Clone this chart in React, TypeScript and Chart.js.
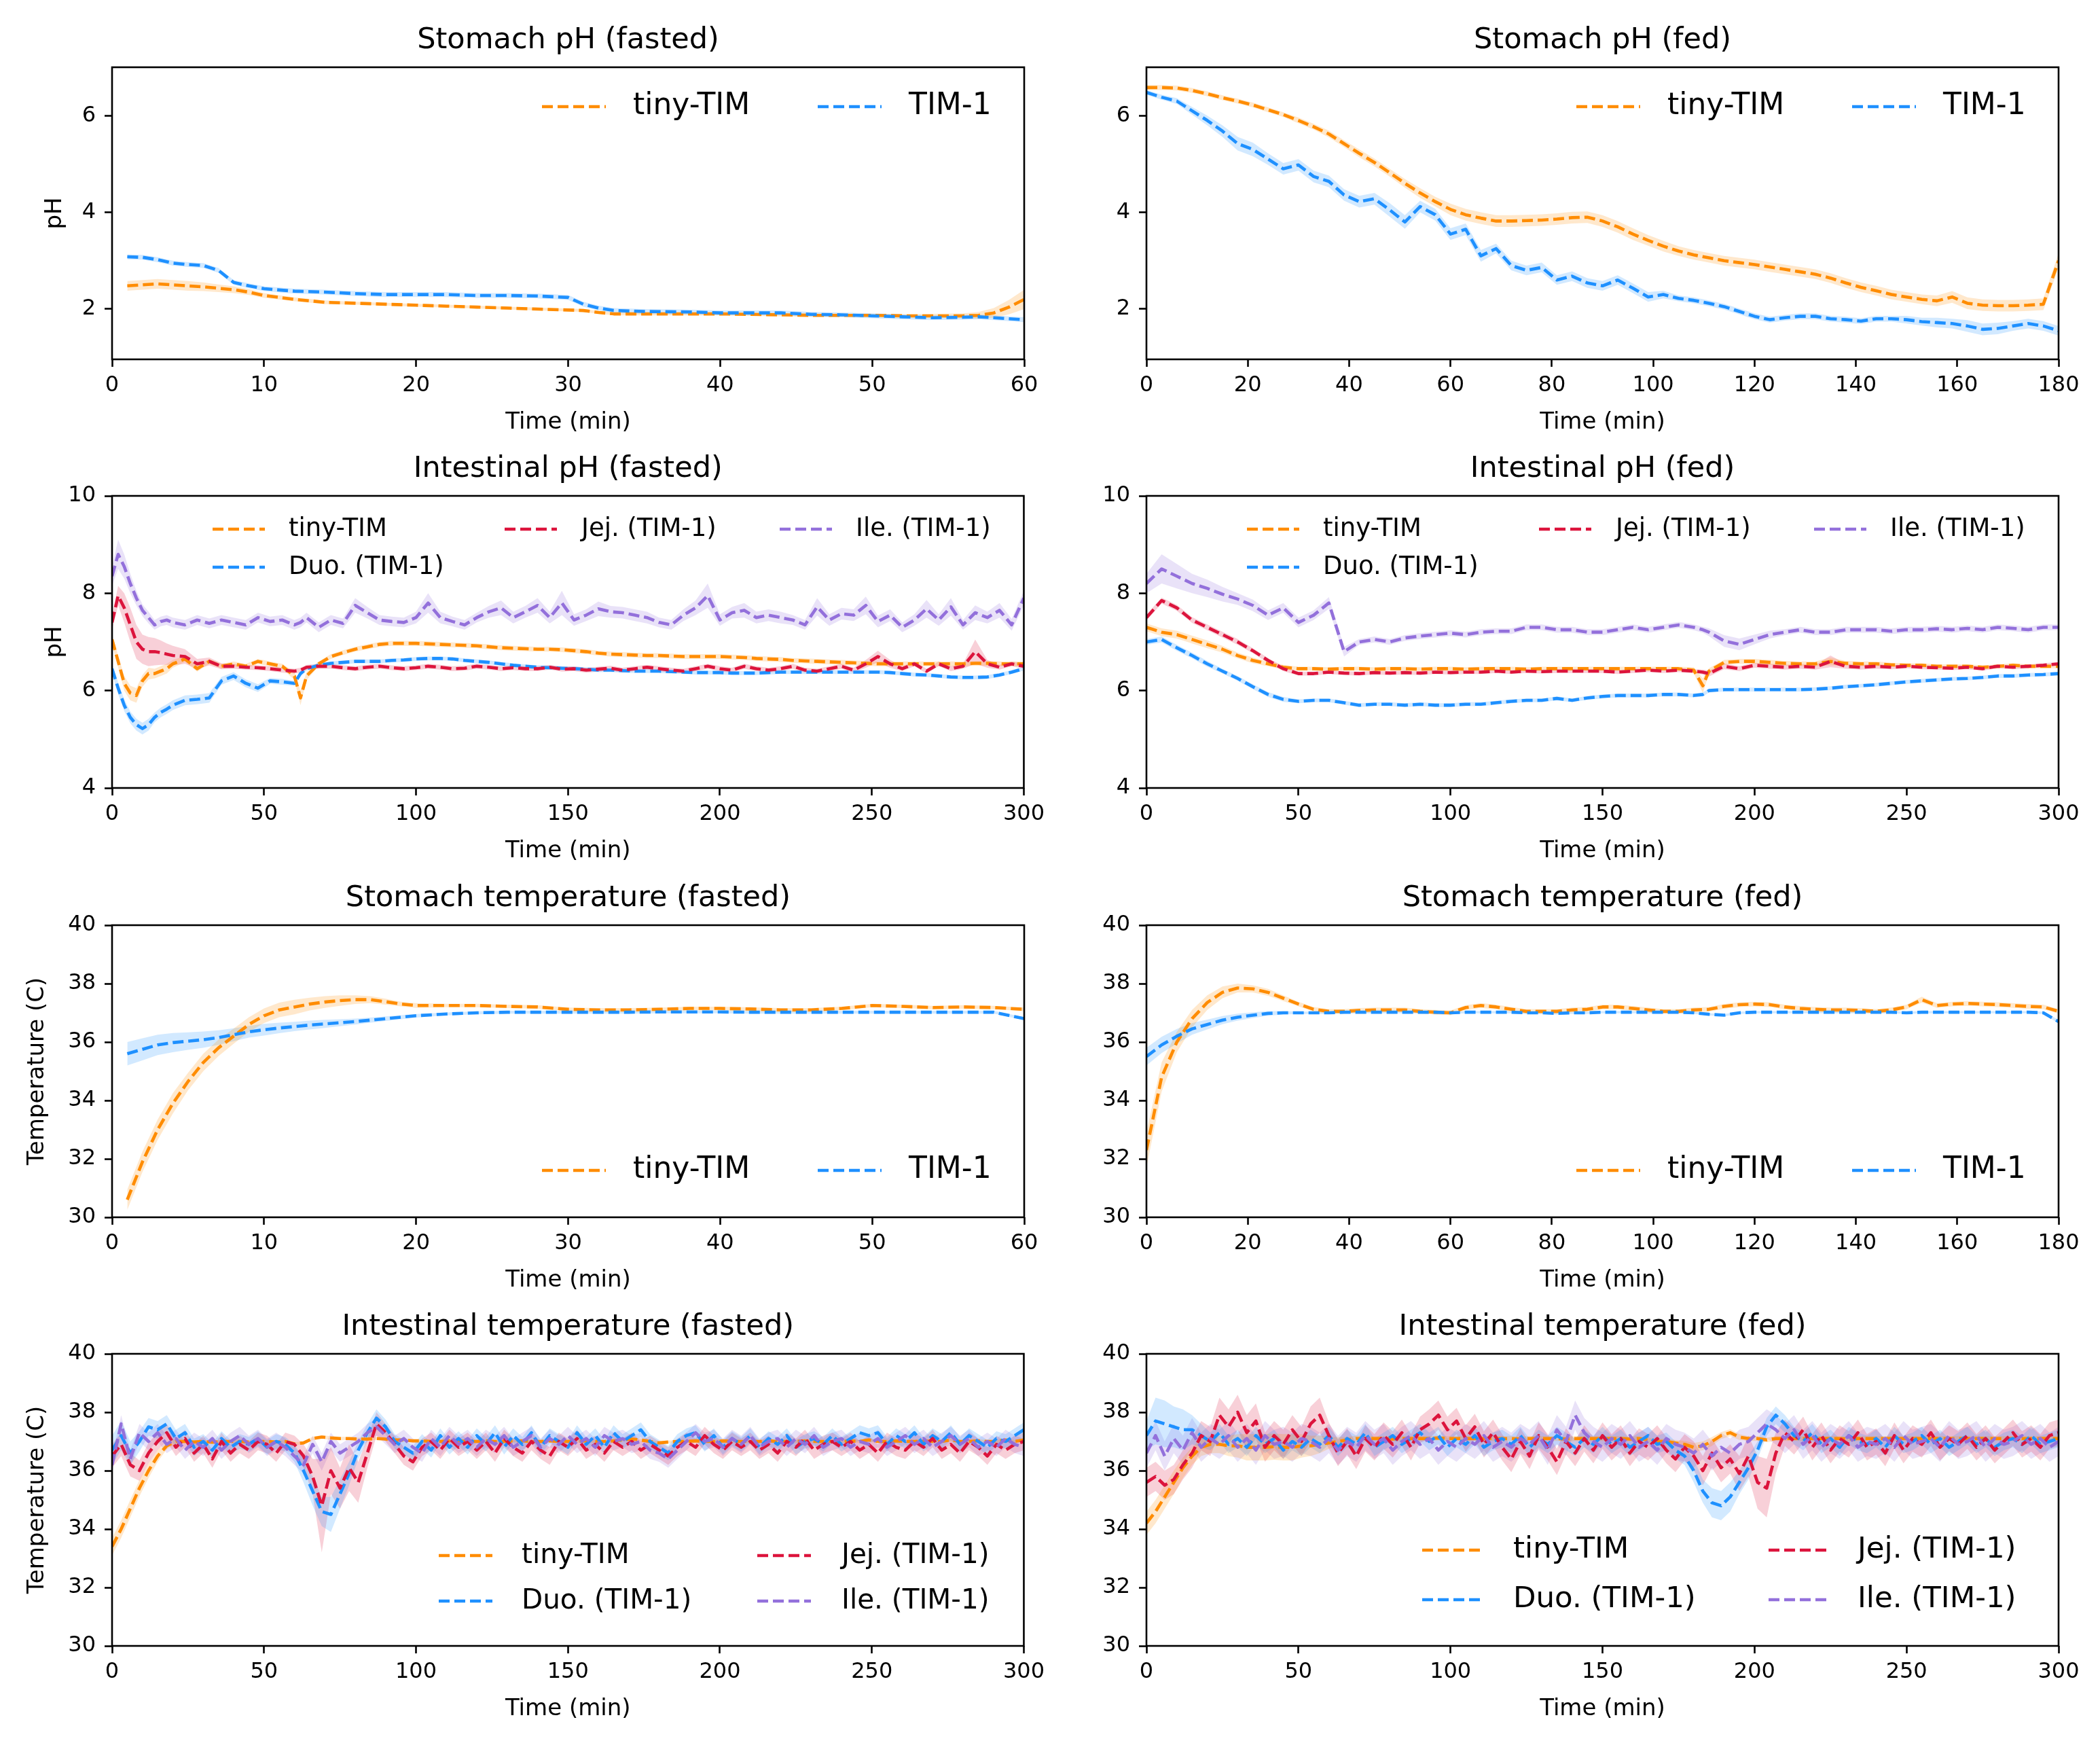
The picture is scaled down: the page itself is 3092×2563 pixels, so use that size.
import React, { useEffect, useRef } from 'react';
import Chart from 'chart.js/auto';

const ORANGE = '#ff8c00';
const BLUE = '#1e90ff';
const RED = '#dc143c';
const PURPLE = '#9370db';
const FONT = '"DejaVu Sans", "Liberation Sans", sans-serif';

// ---------- Stomach pH (fasted) ----------
const T_SPH_FASTED = [1, 2, 3, 4, 5, 6, 7, 8, 9, 10, 12, 14, 16, 18, 20, 22, 24, 26, 28, 30, 31, 32, 33, 35, 38, 40, 42, 44, 46, 48, 50, 52, 54, 56, 57, 58, 59, 60];
const SPH_FASTED_TINY = [2.48, 2.5, 2.52, 2.5, 2.48, 2.46, 2.43, 2.4, 2.35, 2.28, 2.2, 2.14, 2.12, 2.1, 2.08, 2.06, 2.04, 2.02, 2.0, 1.98, 1.97, 1.93, 1.9, 1.9, 1.9, 1.9, 1.89, 1.88, 1.87, 1.87, 1.87, 1.86, 1.86, 1.86, 1.87, 1.92, 2.04, 2.2];
const SPH_FASTED_TINY_SD = [0.1, 0.1, 0.1, 0.1, 0.1, 0.09, 0.08, 0.07, 0.06, 0.05, 0.04, 0.04, 0.03, 0.03, 0.03, 0.03, 0.03, 0.03, 0.03, 0.03, 0.03, 0.03, 0.03, 0.03, 0.03, 0.03, 0.03, 0.03, 0.03, 0.03, 0.03, 0.03, 0.04, 0.05, 0.07, 0.1, 0.15, 0.2];
const SPH_FASTED_TIM1 = [3.08, 3.07, 3.02, 2.95, 2.92, 2.9, 2.8, 2.55, 2.48, 2.42, 2.37, 2.35, 2.32, 2.3, 2.3, 2.3, 2.28, 2.28, 2.27, 2.24, 2.1, 2.02, 1.97, 1.95, 1.94, 1.92, 1.92, 1.92, 1.89, 1.88, 1.86, 1.84, 1.82, 1.83, 1.84, 1.82, 1.8, 1.78];
const SPH_FASTED_TIM1_SD = 0.05;

// ---------- Stomach (fed), pH and temperature share the time grid ----------
const T_STOMACH_FED = [
  0, 3, 6, 9, 12, 15, 18, 21, 24, 27,
  30, 33, 36, 39, 42, 45, 48, 51, 54, 57,
  60, 63, 66, 69, 72, 75, 78, 81, 84, 87,
  90, 93, 96, 99, 102, 105, 108, 111, 114, 117,
  120, 123, 126, 129, 132, 135, 138, 141, 144, 147,
  150, 153, 156, 159, 162, 165, 168, 171, 174, 177,
  180,
];
const SPH_FED_TINY = [
  6.58, 6.58, 6.57, 6.52, 6.45, 6.37, 6.3, 6.22, 6.12, 6.02,
  5.9, 5.77, 5.62, 5.42, 5.22, 5.03, 4.82, 4.6, 4.4, 4.22,
  4.06, 3.95, 3.88, 3.82, 3.82, 3.83, 3.84, 3.86, 3.89, 3.9,
  3.82, 3.7, 3.55, 3.42, 3.3, 3.2, 3.12, 3.06, 3.0, 2.96,
  2.92, 2.87, 2.82, 2.77, 2.72, 2.64, 2.54, 2.45, 2.38, 2.3,
  2.25, 2.2, 2.17, 2.25, 2.12, 2.08, 2.07, 2.07, 2.08, 2.1,
  3.0,
];
const SPH_FED_TINY_SD = [
  0.05, 0.05, 0.05, 0.05, 0.05, 0.05, 0.05, 0.05, 0.05, 0.05,
  0.06, 0.06, 0.07, 0.07, 0.08, 0.08, 0.08, 0.09, 0.1, 0.1,
  0.12, 0.12, 0.12, 0.12, 0.12, 0.12, 0.12, 0.12, 0.12, 0.12,
  0.12, 0.12, 0.12, 0.11, 0.11, 0.1, 0.1, 0.1, 0.1, 0.1,
  0.1, 0.1, 0.1, 0.1, 0.1, 0.1, 0.1, 0.1, 0.1, 0.1,
  0.1, 0.1, 0.11, 0.12, 0.12, 0.12, 0.12, 0.12, 0.12, 0.12,
  0.15,
];
const SPH_FED_TIM1 = [
  6.48, 6.38, 6.3, 6.1, 5.9, 5.68, 5.42, 5.3, 5.1, 4.9,
  4.98, 4.74, 4.64, 4.36, 4.22, 4.28, 4.05, 3.8, 4.12, 3.95,
  3.55, 3.65, 3.1, 3.25, 2.9, 2.8, 2.86, 2.6, 2.68, 2.54,
  2.48, 2.6, 2.43, 2.25, 2.3, 2.22, 2.18, 2.12, 2.05, 1.95,
  1.85, 1.78, 1.82, 1.85, 1.85, 1.8, 1.78, 1.75, 1.8, 1.8,
  1.78, 1.74, 1.72, 1.7, 1.65, 1.58, 1.6, 1.65, 1.7, 1.65,
  1.55,
];
const SPH_FED_TIM1_SD = [
  0.05, 0.05, 0.06, 0.08, 0.1, 0.12, 0.14, 0.14, 0.12, 0.12,
  0.12, 0.12, 0.12, 0.12, 0.12, 0.12, 0.14, 0.14, 0.12, 0.12,
  0.12, 0.12, 0.12, 0.1, 0.1, 0.1, 0.1, 0.1, 0.1, 0.1,
  0.1, 0.1, 0.1, 0.1, 0.08, 0.06, 0.06, 0.06, 0.06, 0.06,
  0.06, 0.06, 0.06, 0.06, 0.06, 0.06, 0.06, 0.06, 0.06, 0.06,
  0.08, 0.08, 0.1, 0.1, 0.12, 0.12, 0.12, 0.1, 0.1, 0.1,
  0.1,
];

// ---------- Intestinal pH (fasted) ----------
const T_IPH_FASTED = [
  0, 2, 4, 6, 8, 10, 12, 14, 16, 18,
  20, 24, 28, 32, 36, 40, 44, 48, 52, 56,
  60, 62, 64, 68, 72, 76, 80, 84, 88, 92,
  96, 100, 104, 108, 112, 116, 120, 124, 128, 132,
  136, 140, 144, 148, 152, 156, 160, 164, 168, 172,
  176, 180, 184, 188, 192, 196, 200, 204, 208, 212,
  216, 220, 224, 228, 232, 236, 240, 244, 248, 252,
  256, 260, 264, 268, 272, 276, 280, 284, 288, 292,
  296, 300,
];
const IPH_FASTED_TINY = [
  7.05, 6.6, 6.15, 5.95, 5.9, 6.2, 6.35, 6.35, 6.4, 6.45,
  6.55, 6.65, 6.45, 6.6, 6.5, 6.55, 6.5, 6.6, 6.55, 6.5,
  6.3, 5.85, 6.3, 6.55, 6.7, 6.78, 6.85, 6.9, 6.95, 6.97,
  6.97, 6.97, 6.96, 6.95, 6.94, 6.93, 6.92, 6.9, 6.88, 6.87,
  6.86, 6.85, 6.85, 6.84, 6.82, 6.8, 6.77, 6.75, 6.74, 6.73,
  6.72, 6.72, 6.71, 6.7, 6.7, 6.7, 6.7, 6.69, 6.68, 6.66,
  6.65, 6.64, 6.62, 6.61, 6.6, 6.59, 6.58, 6.57, 6.56, 6.55,
  6.55, 6.55, 6.55, 6.55, 6.55, 6.55, 6.55, 6.56, 6.56, 6.55,
  6.55, 6.55,
];
const IPH_FASTED_TINY_SD = [
  0.1, 0.12, 0.15, 0.15, 0.15, 0.12, 0.12, 0.1, 0.1, 0.1,
  0.08, 0.06, 0.06, 0.05, 0.05, 0.05, 0.05, 0.05, 0.05, 0.05,
  0.08, 0.15, 0.08, 0.05, 0.05, 0.05, 0.05, 0.05, 0.05, 0.05,
  0.05, 0.05, 0.05, 0.05, 0.05, 0.05, 0.05, 0.05, 0.05, 0.05,
  0.05, 0.05, 0.05, 0.05, 0.05, 0.05, 0.05, 0.05, 0.05, 0.05,
  0.05, 0.05, 0.05, 0.05, 0.05, 0.05, 0.05, 0.05, 0.05, 0.05,
  0.05, 0.05, 0.05, 0.05, 0.05, 0.05, 0.05, 0.05, 0.05, 0.05,
  0.05, 0.05, 0.05, 0.05, 0.05, 0.05, 0.05, 0.05, 0.05, 0.05,
  0.05, 0.05,
];
const IPH_FASTED_DUO = [
  6.45, 6.05, 5.7, 5.45, 5.3, 5.22, 5.3, 5.45, 5.55, 5.62,
  5.7, 5.8, 5.82, 5.85, 6.2, 6.3, 6.15, 6.05, 6.2, 6.18,
  6.15, 6.35, 6.45, 6.52, 6.56, 6.58, 6.6, 6.6, 6.6, 6.62,
  6.63, 6.65, 6.66, 6.66, 6.65, 6.62, 6.6, 6.58, 6.55, 6.52,
  6.5, 6.48, 6.47, 6.46, 6.45, 6.44, 6.42, 6.42, 6.41, 6.4,
  6.4, 6.4, 6.39, 6.38, 6.37, 6.37, 6.37, 6.36, 6.36, 6.36,
  6.37, 6.38, 6.38, 6.38, 6.38, 6.38, 6.38, 6.38, 6.38, 6.38,
  6.37, 6.35, 6.33, 6.32, 6.3, 6.28, 6.27, 6.27, 6.28, 6.32,
  6.38, 6.45,
];
const IPH_FASTED_DUO_SD = [
  0.1, 0.12, 0.12, 0.12, 0.12, 0.12, 0.12, 0.1, 0.1, 0.1,
  0.1, 0.1, 0.1, 0.1, 0.08, 0.08, 0.08, 0.08, 0.06, 0.06,
  0.05, 0.05, 0.04, 0.04, 0.04, 0.04, 0.04, 0.04, 0.04, 0.04,
  0.04, 0.04, 0.04, 0.04, 0.04, 0.04, 0.04, 0.04, 0.04, 0.04,
  0.04, 0.04, 0.04, 0.04, 0.04, 0.04, 0.04, 0.04, 0.04, 0.04,
  0.04, 0.04, 0.04, 0.04, 0.04, 0.04, 0.04, 0.04, 0.04, 0.04,
  0.04, 0.04, 0.04, 0.04, 0.04, 0.04, 0.04, 0.04, 0.04, 0.04,
  0.04, 0.04, 0.04, 0.04, 0.04, 0.04, 0.04, 0.04, 0.04, 0.04,
  0.04, 0.04,
];
const IPH_FASTED_JEJ = [
  7.4, 7.95, 7.7, 7.35, 7.0, 6.85, 6.8, 6.8, 6.78, 6.75,
  6.72, 6.7, 6.55, 6.6, 6.5, 6.5, 6.48, 6.47, 6.45, 6.42,
  6.4, 6.42, 6.48, 6.5, 6.5, 6.47, 6.45, 6.48, 6.5, 6.47,
  6.45, 6.47, 6.5, 6.48, 6.45, 6.46, 6.5, 6.48, 6.45, 6.47,
  6.45, 6.45, 6.48, 6.44, 6.45, 6.42, 6.44, 6.46, 6.42, 6.45,
  6.48, 6.45, 6.42, 6.4, 6.45, 6.5, 6.45, 6.42, 6.5, 6.45,
  6.42, 6.45, 6.5, 6.42, 6.4, 6.45, 6.5, 6.42, 6.55, 6.7,
  6.55, 6.45, 6.55, 6.4, 6.55, 6.45, 6.5, 6.8, 6.55, 6.48,
  6.55, 6.5,
];
const IPH_FASTED_JEJ_SD = [
  0.15, 0.2, 0.3, 0.35, 0.35, 0.3, 0.3, 0.28, 0.25, 0.22,
  0.2, 0.15, 0.1, 0.08, 0.06, 0.05, 0.05, 0.05, 0.05, 0.05,
  0.05, 0.05, 0.05, 0.05, 0.05, 0.05, 0.05, 0.05, 0.05, 0.05,
  0.05, 0.05, 0.05, 0.05, 0.05, 0.05, 0.05, 0.05, 0.05, 0.05,
  0.05, 0.05, 0.05, 0.05, 0.05, 0.05, 0.05, 0.05, 0.05, 0.05,
  0.05, 0.05, 0.05, 0.05, 0.05, 0.05, 0.05, 0.05, 0.05, 0.05,
  0.05, 0.05, 0.05, 0.05, 0.05, 0.05, 0.05, 0.05, 0.08, 0.12,
  0.08, 0.05, 0.05, 0.05, 0.05, 0.05, 0.05, 0.25, 0.08, 0.05,
  0.05, 0.05,
];
const IPH_FASTED_ILE = [
  8.35, 8.8, 8.55, 8.2, 7.9, 7.65, 7.5, 7.35, 7.42, 7.45,
  7.4, 7.35, 7.45, 7.38, 7.45, 7.4, 7.35, 7.5, 7.42, 7.45,
  7.35, 7.4, 7.5, 7.3, 7.45, 7.38, 7.75, 7.6, 7.45, 7.42,
  7.4, 7.5, 7.8, 7.5, 7.42, 7.35, 7.5, 7.62, 7.7, 7.5,
  7.62, 7.75, 7.5, 7.8, 7.45, 7.55, 7.68, 7.62, 7.6, 7.55,
  7.5, 7.4, 7.35, 7.55, 7.7, 7.95, 7.45, 7.6, 7.65, 7.5,
  7.55, 7.5, 7.45, 7.35, 7.72, 7.45, 7.58, 7.55, 7.75, 7.42,
  7.55, 7.3, 7.45, 7.68, 7.45, 7.72, 7.35, 7.6, 7.5, 7.65,
  7.35, 7.9,
];
const IPH_FASTED_ILE_SD = [
  0.2, 0.3, 0.25, 0.2, 0.15, 0.12, 0.12, 0.1, 0.1, 0.1,
  0.1, 0.1, 0.1, 0.1, 0.1, 0.1, 0.1, 0.1, 0.1, 0.1,
  0.1, 0.1, 0.1, 0.1, 0.1, 0.1, 0.15, 0.12, 0.1, 0.1,
  0.1, 0.12, 0.2, 0.12, 0.1, 0.1, 0.1, 0.12, 0.15, 0.12,
  0.12, 0.15, 0.12, 0.25, 0.12, 0.12, 0.15, 0.12, 0.12, 0.12,
  0.12, 0.1, 0.1, 0.12, 0.15, 0.25, 0.12, 0.12, 0.15, 0.12,
  0.12, 0.12, 0.1, 0.1, 0.18, 0.12, 0.12, 0.12, 0.18, 0.12,
  0.12, 0.1, 0.12, 0.18, 0.12, 0.18, 0.1, 0.15, 0.12, 0.15,
  0.12, 0.15,
];

// ---------- Intestinal pH (fed) ----------
const T_IPH_FED = [
  0, 5, 10, 15, 20, 25, 30, 35, 40, 45,
  50, 55, 60, 65, 70, 75, 80, 85, 90, 95,
  100, 105, 110, 115, 120, 125, 130, 135, 140, 145,
  150, 155, 160, 165, 170, 175, 180, 183, 185, 190,
  195, 200, 205, 210, 215, 220, 225, 230, 235, 240,
  245, 250, 255, 260, 265, 270, 275, 280, 285, 290,
  295, 300,
];
const IPH_FED_TINY = [
  7.3, 7.2, 7.15, 7.05, 6.95, 6.85, 6.72, 6.62, 6.55, 6.48,
  6.45, 6.45, 6.44, 6.45, 6.45, 6.44, 6.45, 6.45, 6.44, 6.45,
  6.45, 6.44, 6.45, 6.45, 6.45, 6.44, 6.45, 6.45, 6.45, 6.45,
  6.45, 6.45, 6.45, 6.45, 6.45, 6.45, 6.42, 6.1, 6.4, 6.58,
  6.6, 6.6, 6.58, 6.56, 6.55, 6.55, 6.6, 6.56, 6.55, 6.55,
  6.53, 6.52, 6.52, 6.5, 6.5, 6.5, 6.48, 6.5, 6.52, 6.5,
  6.5, 6.5,
];
const IPH_FED_TINY_SD = [
  0.08, 0.08, 0.08, 0.08, 0.08, 0.07, 0.06, 0.06, 0.05, 0.05,
  0.04, 0.04, 0.04, 0.04, 0.04, 0.04, 0.04, 0.04, 0.04, 0.04,
  0.04, 0.04, 0.04, 0.04, 0.04, 0.04, 0.04, 0.04, 0.04, 0.04,
  0.04, 0.04, 0.04, 0.04, 0.04, 0.04, 0.06, 0.15, 0.06, 0.05,
  0.05, 0.05, 0.05, 0.05, 0.05, 0.05, 0.08, 0.05, 0.05, 0.05,
  0.04, 0.04, 0.04, 0.04, 0.04, 0.04, 0.04, 0.04, 0.04, 0.04,
  0.04, 0.04,
];
const IPH_FED_DUO = [
  7.0, 7.05, 6.88, 6.72, 6.55, 6.4, 6.25, 6.08, 5.92, 5.82,
  5.78, 5.8, 5.8, 5.75, 5.7, 5.72, 5.72, 5.7, 5.72, 5.7,
  5.7, 5.72, 5.72, 5.75, 5.78, 5.8, 5.8, 5.84, 5.8, 5.85,
  5.88, 5.9, 5.9, 5.9, 5.92, 5.92, 5.9, 5.92, 6.0, 6.02,
  6.02, 6.02, 6.02, 6.02, 6.02, 6.03, 6.05, 6.08, 6.1, 6.12,
  6.15, 6.18, 6.2, 6.22, 6.24, 6.25, 6.27, 6.3, 6.3, 6.32,
  6.33, 6.35,
];
const IPH_FED_DUO_SD = [
  0.06, 0.06, 0.06, 0.06, 0.06, 0.05, 0.05, 0.05, 0.05, 0.05,
  0.04, 0.04, 0.04, 0.04, 0.04, 0.04, 0.04, 0.04, 0.04, 0.04,
  0.04, 0.04, 0.04, 0.04, 0.04, 0.04, 0.04, 0.04, 0.04, 0.04,
  0.04, 0.04, 0.04, 0.04, 0.04, 0.04, 0.04, 0.04, 0.04, 0.04,
  0.04, 0.04, 0.04, 0.04, 0.04, 0.04, 0.04, 0.04, 0.04, 0.04,
  0.04, 0.04, 0.04, 0.04, 0.04, 0.04, 0.04, 0.04, 0.04, 0.04,
  0.04, 0.04,
];
const IPH_FED_JEJ = [
  7.5, 7.85, 7.7, 7.45, 7.3, 7.15, 7.0, 6.82, 6.62, 6.45,
  6.35, 6.35, 6.38, 6.36, 6.35, 6.37, 6.36, 6.37, 6.36, 6.38,
  6.37, 6.38, 6.38, 6.4, 6.38, 6.4, 6.39, 6.4, 6.4, 6.4,
  6.4, 6.38, 6.4, 6.42, 6.4, 6.42, 6.4, 6.38, 6.35, 6.5,
  6.45, 6.52, 6.5, 6.48, 6.5, 6.48, 6.6, 6.5, 6.48, 6.5,
  6.48, 6.5, 6.48, 6.47, 6.46, 6.48, 6.45, 6.5, 6.48, 6.5,
  6.52, 6.55,
];
const IPH_FED_JEJ_SD = [
  0.06, 0.06, 0.06, 0.06, 0.06, 0.06, 0.06, 0.05, 0.05, 0.05,
  0.04, 0.04, 0.04, 0.04, 0.04, 0.04, 0.04, 0.04, 0.04, 0.04,
  0.04, 0.04, 0.04, 0.04, 0.04, 0.04, 0.04, 0.04, 0.04, 0.04,
  0.04, 0.04, 0.04, 0.04, 0.04, 0.04, 0.04, 0.05, 0.06, 0.06,
  0.05, 0.05, 0.05, 0.05, 0.05, 0.05, 0.12, 0.05, 0.05, 0.05,
  0.04, 0.04, 0.04, 0.04, 0.04, 0.04, 0.04, 0.04, 0.04, 0.04,
  0.04, 0.04,
];
const IPH_FED_ILE = [
  8.2, 8.5, 8.35, 8.2, 8.1, 7.98, 7.88, 7.75, 7.55, 7.7,
  7.4, 7.55, 7.8, 6.8, 7.0, 7.05, 7.0, 7.08, 7.12, 7.15,
  7.18, 7.15, 7.2, 7.22, 7.22, 7.3, 7.3, 7.25, 7.25, 7.2,
  7.2, 7.25, 7.3, 7.25, 7.3, 7.35, 7.3, 7.25, 7.2, 7.02,
  6.95, 7.05, 7.15, 7.2, 7.25, 7.2, 7.2, 7.25, 7.25, 7.25,
  7.22, 7.25, 7.25, 7.27, 7.25, 7.28, 7.25, 7.3, 7.28, 7.25,
  7.3, 7.3,
];
const IPH_FED_ILE_SD = [
  0.2, 0.3, 0.25, 0.2, 0.18, 0.15, 0.12, 0.12, 0.1, 0.1,
  0.1, 0.1, 0.12, 0.1, 0.06, 0.06, 0.06, 0.06, 0.06, 0.06,
  0.06, 0.06, 0.06, 0.06, 0.06, 0.06, 0.06, 0.06, 0.06, 0.06,
  0.06, 0.06, 0.06, 0.06, 0.06, 0.06, 0.06, 0.06, 0.08, 0.12,
  0.12, 0.1, 0.08, 0.06, 0.06, 0.06, 0.06, 0.06, 0.06, 0.06,
  0.06, 0.06, 0.06, 0.06, 0.06, 0.06, 0.06, 0.06, 0.06, 0.06,
  0.06, 0.06,
];

// ---------- Stomach temperature (fasted) ----------
const T_STEMP_FASTED = [1, 2, 3, 4, 5, 6, 7, 8, 9, 10, 11, 12, 13, 14, 15, 16, 17, 18, 19, 20, 22, 24, 26, 28, 30, 32, 34, 36, 38, 40, 42, 44, 46, 48, 50, 52, 54, 56, 58, 60];
const STEMP_FASTED_TINY = [
  30.6, 31.9, 33.0, 33.9, 34.65, 35.3, 35.8, 36.2, 36.6, 36.9,
  37.1, 37.2, 37.3, 37.37, 37.42, 37.45, 37.45, 37.38, 37.3, 37.25,
  37.25, 37.25, 37.22, 37.2, 37.12, 37.1, 37.1, 37.12, 37.15, 37.15,
  37.13, 37.1, 37.1, 37.15, 37.25, 37.22, 37.18, 37.2, 37.18, 37.12,
];
const STEMP_FASTED_TINY_SD = [
  0.35, 0.35, 0.35, 0.35, 0.3, 0.3, 0.28, 0.26, 0.25, 0.25,
  0.25, 0.25, 0.22, 0.2, 0.18, 0.15, 0.12, 0.1, 0.08, 0.08,
  0.06, 0.06, 0.06, 0.06, 0.06, 0.06, 0.06, 0.06, 0.06, 0.06,
  0.06, 0.06, 0.06, 0.06, 0.06, 0.06, 0.06, 0.06, 0.06, 0.06,
];
const STEMP_FASTED_TIM1 = [
  35.6, 35.75, 35.9, 35.98, 36.03, 36.08, 36.15, 36.25, 36.35, 36.42,
  36.48, 36.53, 36.58, 36.62, 36.66, 36.7, 36.75, 36.8, 36.85, 36.9,
  36.96, 37.0, 37.02, 37.02, 37.02, 37.02, 37.02, 37.03, 37.03, 37.03,
  37.02, 37.02, 37.02, 37.02, 37.02, 37.02, 37.02, 37.02, 37.02, 36.8,
];
const STEMP_FASTED_TIM1_SD = [
  0.4, 0.38, 0.35, 0.33, 0.3, 0.28, 0.25, 0.22, 0.2, 0.2,
  0.18, 0.16, 0.15, 0.14, 0.12, 0.1, 0.09, 0.08, 0.07, 0.06,
  0.05, 0.05, 0.05, 0.05, 0.05, 0.05, 0.05, 0.05, 0.05, 0.05,
  0.05, 0.05, 0.05, 0.05, 0.05, 0.05, 0.05, 0.05, 0.05, 0.05,
];

// ---------- Stomach temperature (fed) ----------
const STEMP_FED_TINY = [
  32.3, 34.8, 36.0, 36.8, 37.35, 37.7, 37.85, 37.82, 37.7, 37.5,
  37.3, 37.12, 37.05, 37.05, 37.08, 37.1, 37.1, 37.1, 37.05, 37.02,
  37.0, 37.18, 37.25, 37.2, 37.12, 37.05, 37.05, 37.05, 37.1, 37.12,
  37.2, 37.2, 37.15, 37.1, 37.05, 37.05, 37.1, 37.12, 37.22, 37.28,
  37.3, 37.28, 37.2, 37.15, 37.12, 37.1, 37.1, 37.08, 37.05, 37.1,
  37.2, 37.45, 37.25, 37.3, 37.32, 37.3, 37.28, 37.25, 37.22, 37.2,
  37.05,
];
const STEMP_FED_TINY_SD = [
  0.6, 0.5, 0.35, 0.3, 0.25, 0.2, 0.15, 0.12, 0.12, 0.1,
  0.08, 0.08, 0.08, 0.08, 0.08, 0.08, 0.08, 0.08, 0.08, 0.08,
  0.08, 0.08, 0.08, 0.08, 0.08, 0.08, 0.08, 0.08, 0.08, 0.08,
  0.08, 0.08, 0.08, 0.08, 0.08, 0.08, 0.08, 0.08, 0.08, 0.08,
  0.08, 0.08, 0.08, 0.08, 0.08, 0.08, 0.08, 0.08, 0.08, 0.08,
  0.08, 0.1, 0.08, 0.08, 0.08, 0.08, 0.08, 0.08, 0.08, 0.08,
  0.08,
];
const STEMP_FED_TIM1 = [
  35.5, 35.9, 36.2, 36.45, 36.6, 36.75, 36.85, 36.92, 36.98, 37.0,
  37.0, 37.0, 37.0, 37.02, 37.02, 37.02, 37.02, 37.02, 37.02, 37.02,
  37.0, 37.02, 37.02, 37.02, 37.02, 37.0, 37.0, 36.98, 37.0, 37.0,
  37.02, 37.02, 37.02, 37.02, 37.02, 37.02, 37.0, 36.95, 36.92, 37.0,
  37.02, 37.02, 37.02, 37.02, 37.02, 37.02, 37.02, 37.02, 37.02, 37.02,
  37.0, 37.02, 37.02, 37.02, 37.02, 37.02, 37.02, 37.02, 37.02, 37.0,
  36.7,
];
const STEMP_FED_TIM1_SD = [
  0.3, 0.28, 0.25, 0.2, 0.17, 0.14, 0.12, 0.1, 0.08, 0.06,
  0.04, 0.04, 0.04, 0.04, 0.04, 0.04, 0.04, 0.04, 0.04, 0.04,
  0.04, 0.04, 0.04, 0.04, 0.04, 0.04, 0.04, 0.04, 0.04, 0.04,
  0.04, 0.04, 0.04, 0.04, 0.04, 0.04, 0.04, 0.04, 0.04, 0.04,
  0.04, 0.04, 0.04, 0.04, 0.04, 0.04, 0.04, 0.04, 0.04, 0.04,
  0.04, 0.04, 0.04, 0.04, 0.04, 0.04, 0.04, 0.04, 0.04, 0.04,
  0.06,
];

// ---------- Intestinal temperature (fasted and fed share the time grid) ----------
const T_ITEMP = [
  0, 3, 6, 9, 12, 15, 18, 21, 24, 27,
  30, 33, 36, 39, 42, 45, 48, 51, 54, 57,
  60, 63, 66, 69, 72, 75, 78, 81, 84, 87,
  90, 93, 96, 99, 102, 105, 108, 111, 114, 117,
  120, 123, 126, 129, 132, 135, 138, 141, 144, 147,
  150, 153, 156, 159, 162, 165, 168, 171, 174, 177,
  180, 183, 186, 189, 192, 195, 198, 201, 204, 207,
  210, 213, 216, 219, 222, 225, 228, 231, 234, 237,
  240, 243, 246, 249, 252, 255, 258, 261, 264, 267,
  270, 273, 276, 279, 282, 285, 288, 291, 294, 297,
  300,
];
const ITEMP_FASTED_TINY = [
  33.4, 34.0, 34.7, 35.4, 36.0, 36.5, 36.85, 37.0, 37.0, 36.98,
  37.0, 36.97, 37.0, 37.0, 37.0, 36.98, 37.0, 37.0, 36.98, 37.0,
  36.92, 36.95, 37.1, 37.15, 37.12, 37.1, 37.1, 37.08, 37.08, 37.1,
  37.08, 37.05, 37.05, 37.02, 37.02, 37.0, 37.0, 37.02, 37.02, 37.0,
  37.0, 37.02, 37.0, 37.0, 37.02, 37.02, 37.0, 37.0, 37.02, 37.0,
  37.0, 37.0, 37.02, 37.0, 37.0, 37.02, 37.05, 37.08, 37.05, 37.0,
  36.95, 36.98, 37.0, 37.0, 37.02, 37.0, 37.0, 37.02, 37.0, 37.0,
  37.0, 37.0, 37.02, 37.0, 37.0, 37.0, 37.02, 37.0, 37.0, 37.0,
  37.0, 37.02, 37.0, 37.05, 37.0, 37.0, 37.02, 37.0, 37.0, 37.02,
  37.0, 37.0, 37.05, 37.0, 37.0, 37.02, 37.0, 37.0, 37.05, 37.0,
  37.05,
];
const ITEMP_FASTED_TINY_SD = [
  0.3, 0.3, 0.3, 0.28, 0.25, 0.2, 0.12, 0.08, 0.06, 0.05,
  0.05, 0.05, 0.05, 0.05, 0.05, 0.05, 0.05, 0.05, 0.05, 0.05,
  0.05, 0.05, 0.06, 0.06, 0.06, 0.06, 0.05, 0.05, 0.05, 0.05,
  0.05, 0.05, 0.05, 0.05, 0.05, 0.05, 0.05, 0.05, 0.05, 0.05,
  0.05, 0.05, 0.05, 0.05, 0.05, 0.05, 0.05, 0.05, 0.05, 0.05,
  0.05, 0.05, 0.05, 0.05, 0.05, 0.05, 0.05, 0.05, 0.05, 0.05,
  0.05, 0.05, 0.05, 0.05, 0.05, 0.05, 0.05, 0.05, 0.05, 0.05,
  0.05, 0.05, 0.05, 0.05, 0.05, 0.05, 0.05, 0.05, 0.05, 0.05,
  0.05, 0.05, 0.05, 0.05, 0.05, 0.05, 0.05, 0.05, 0.05, 0.05,
  0.05, 0.05, 0.05, 0.05, 0.05, 0.05, 0.05, 0.05, 0.05, 0.05,
  0.05,
];
const ITEMP_FASTED_DUO = [
  36.7, 37.2, 36.6, 37.0, 37.5, 37.4, 37.6, 37.1, 37.3, 36.8,
  37.0, 36.7, 37.1, 36.8, 37.0, 36.9, 37.1, 36.8, 37.0, 36.9,
  36.6, 36.0, 35.3, 34.6, 34.5, 35.2, 35.9, 36.7, 37.3, 37.8,
  37.5, 37.0, 36.8, 36.6, 37.0, 36.7, 37.2, 36.8, 37.1, 36.8,
  37.2, 36.9, 37.3, 36.8, 37.2, 36.9, 37.3, 36.8, 37.2, 37.0,
  36.8, 37.3, 36.9, 37.2, 36.8, 37.3, 37.0, 37.2, 37.4, 37.0,
  36.8, 36.6, 37.0, 37.2, 37.3, 36.9, 37.2, 36.8, 37.1, 36.9,
  37.2, 36.8, 37.1, 36.9, 37.2, 36.8, 37.0, 37.1, 36.9, 37.2,
  36.9, 37.1, 37.3, 37.2, 37.3, 36.9, 37.2, 37.0, 37.3, 36.9,
  37.2, 37.0, 37.3, 36.9, 37.2, 37.0, 36.8, 37.1, 37.0, 37.2,
  37.4,
];
const ITEMP_FASTED_DUO_SD = [
  0.5, 0.5, 0.4, 0.35, 0.3, 0.3, 0.3, 0.3, 0.3, 0.3,
  0.25, 0.25, 0.25, 0.25, 0.25, 0.25, 0.25, 0.25, 0.25, 0.25,
  0.3, 0.4, 0.5, 0.5, 0.6, 0.5, 0.4, 0.3, 0.3, 0.3,
  0.25, 0.25, 0.25, 0.25, 0.25, 0.25, 0.25, 0.25, 0.25, 0.25,
  0.25, 0.25, 0.25, 0.25, 0.25, 0.25, 0.25, 0.25, 0.25, 0.25,
  0.25, 0.25, 0.25, 0.25, 0.25, 0.25, 0.25, 0.25, 0.25, 0.25,
  0.25, 0.25, 0.25, 0.25, 0.25, 0.25, 0.25, 0.25, 0.25, 0.25,
  0.25, 0.25, 0.25, 0.25, 0.25, 0.25, 0.25, 0.25, 0.25, 0.25,
  0.25, 0.25, 0.25, 0.25, 0.25, 0.25, 0.25, 0.25, 0.25, 0.25,
  0.25, 0.25, 0.25, 0.25, 0.25, 0.25, 0.25, 0.25, 0.25, 0.25,
  0.25,
];
const ITEMP_FASTED_JEJ = [
  36.5, 36.9, 36.2, 36.0, 36.6, 37.0, 37.3, 36.8, 37.1, 36.6,
  36.9, 36.4, 37.0, 36.6, 36.9, 36.7, 37.0, 36.9, 36.6, 37.0,
  36.9, 36.5, 35.8, 34.8, 36.0, 35.4, 36.1, 35.6, 36.6, 37.6,
  37.3, 36.9, 36.5, 36.3, 36.8, 37.0, 36.7, 37.1, 36.8, 37.0,
  36.7, 37.0, 36.6, 37.1, 36.8, 36.6, 37.0, 36.7, 36.5, 37.0,
  36.8, 37.1, 36.7, 36.9, 36.6, 37.0, 36.8, 37.0, 36.7, 36.9,
  36.7, 36.5, 36.8, 37.0, 36.8, 37.2, 36.9, 36.7, 37.0, 36.8,
  37.0, 36.7, 36.9, 36.6, 37.0, 36.8, 37.1, 36.7, 36.9, 37.0,
  36.8, 37.0, 36.7, 36.9, 36.6, 37.0, 36.8, 36.7, 37.0, 36.8,
  37.1, 36.7, 36.9, 36.6, 37.0, 36.8, 36.5, 36.9, 36.7, 36.9,
  37.0,
];
const ITEMP_FASTED_JEJ_SD = [
  0.4, 0.4, 0.4, 0.35, 0.35, 0.3, 0.3, 0.3, 0.3, 0.3,
  0.3, 0.3, 0.3, 0.3, 0.3, 0.3, 0.3, 0.3, 0.3, 0.3,
  0.3, 0.4, 0.6, 1.6, 0.8, 0.7, 0.8, 0.7, 0.5, 0.4,
  0.3, 0.3, 0.3, 0.3, 0.3, 0.3, 0.3, 0.3, 0.3, 0.3,
  0.3, 0.3, 0.3, 0.3, 0.3, 0.3, 0.3, 0.3, 0.3, 0.3,
  0.3, 0.3, 0.3, 0.3, 0.3, 0.3, 0.3, 0.3, 0.3, 0.3,
  0.3, 0.3, 0.3, 0.3, 0.3, 0.3, 0.3, 0.3, 0.3, 0.3,
  0.3, 0.3, 0.3, 0.3, 0.3, 0.3, 0.3, 0.3, 0.3, 0.3,
  0.3, 0.3, 0.3, 0.3, 0.3, 0.3, 0.3, 0.3, 0.3, 0.3,
  0.3, 0.3, 0.3, 0.3, 0.3, 0.3, 0.3, 0.3, 0.3, 0.3,
  0.3,
];
const ITEMP_FASTED_ILE = [
  36.2, 37.6, 36.4, 37.3, 37.0, 37.3, 36.9, 37.1, 36.7, 37.0,
  36.8, 37.1, 36.7, 37.0, 37.2, 36.9, 37.1, 36.8, 37.0, 36.8,
  36.5, 36.2, 36.9, 36.3, 37.0, 36.6, 36.8, 37.0, 37.3, 37.5,
  37.2, 36.9, 37.1, 36.8, 36.6, 37.1, 36.8, 37.2, 36.9, 37.1,
  36.8, 37.1, 36.9, 37.2, 36.8, 37.0, 37.2, 36.8, 37.1, 36.9,
  37.2, 36.9, 37.1, 36.8, 37.2, 37.0, 37.1, 36.9, 37.0, 36.7,
  36.6, 36.4, 36.7, 37.0, 37.3, 37.0, 37.1, 36.8, 37.1, 36.9,
  37.2, 36.8, 37.0, 37.1, 36.8, 37.1, 36.9, 37.2, 36.8, 37.0,
  37.1, 36.8, 37.0, 36.9, 37.1, 36.8, 37.0, 37.2, 36.9, 37.1,
  36.8, 37.0, 37.2, 36.9, 37.1, 36.8, 37.0, 36.8, 37.1, 36.9,
  36.8,
];
const ITEMP_FASTED_ILE_SD = 0.3;

const ITEMP_FED_TINY = [
  34.2, 34.6, 35.1, 35.6, 36.1, 36.5, 36.8, 36.9, 36.9, 36.85,
  36.85, 36.8, 36.8, 36.8, 36.82, 36.8, 36.8, 36.85, 36.85, 36.9,
  36.95, 37.0, 37.05, 37.1, 37.1, 37.1, 37.1, 37.08, 37.1, 37.1,
  37.1, 37.1, 37.12, 37.1, 37.1, 37.1, 37.1, 37.1, 37.1, 37.1,
  37.1, 37.08, 37.1, 37.1, 37.1, 37.1, 37.08, 37.1, 37.1, 37.1,
  37.1, 37.1, 37.1, 37.08, 37.1, 37.05, 37.0, 37.0, 36.95, 36.9,
  36.8, 36.85, 37.0, 37.2, 37.3, 37.15, 37.1, 37.1, 37.05, 37.1,
  37.1, 37.1, 37.1, 37.1, 37.1, 37.1, 37.1, 37.08, 37.1, 37.1,
  37.1, 37.1, 37.1, 37.1, 37.1, 37.1, 37.1, 37.1, 37.1, 37.1,
  37.1, 37.1, 37.1, 37.1, 37.1, 37.1, 37.1, 37.1, 37.1, 37.1,
  37.1,
];
const ITEMP_FED_TINY_SD = [
  0.4, 0.4, 0.4, 0.4, 0.35, 0.3, 0.3, 0.3, 0.3, 0.35,
  0.4, 0.45, 0.45, 0.45, 0.45, 0.45, 0.45, 0.4, 0.35, 0.3,
  0.2, 0.15, 0.1, 0.1, 0.08, 0.08, 0.08, 0.08, 0.08, 0.08,
  0.08, 0.08, 0.08, 0.08, 0.08, 0.08, 0.08, 0.08, 0.08, 0.08,
  0.08, 0.08, 0.08, 0.08, 0.08, 0.08, 0.08, 0.08, 0.08, 0.08,
  0.08, 0.08, 0.08, 0.08, 0.08, 0.08, 0.08, 0.1, 0.1, 0.12,
  0.15, 0.15, 0.15, 0.12, 0.12, 0.1, 0.08, 0.08, 0.08, 0.08,
  0.08, 0.08, 0.08, 0.08, 0.08, 0.08, 0.08, 0.08, 0.08, 0.08,
  0.08, 0.08, 0.08, 0.08, 0.08, 0.08, 0.08, 0.08, 0.08, 0.08,
  0.08, 0.08, 0.08, 0.08, 0.08, 0.08, 0.08, 0.08, 0.08, 0.08,
  0.08,
];
const ITEMP_FED_DUO = [
  37.2, 37.7, 37.6, 37.5, 37.4, 37.4, 37.2, 37.0, 37.3, 36.9,
  37.1, 36.8, 37.2, 36.9, 37.1, 36.7, 37.0, 36.8, 37.1, 36.9,
  37.2, 36.8, 37.1, 36.9, 37.3, 36.8, 37.0, 37.2, 36.9, 37.1,
  37.3, 37.0, 37.2, 36.8, 37.1, 36.9, 37.2, 36.8, 37.0, 37.1,
  36.9, 37.2, 36.8, 37.1, 36.9, 37.2, 37.0, 36.8, 37.1, 36.9,
  37.2, 36.9, 37.1, 36.8, 37.0, 37.2, 36.9, 37.0, 36.7, 36.5,
  36.0, 35.3, 34.9, 34.8, 35.1, 35.6, 36.1, 36.7, 37.5, 37.9,
  37.6, 37.2, 37.0, 37.3, 36.9, 37.1, 36.8, 37.2, 37.0, 36.9,
  37.1, 36.8, 37.2, 36.9, 37.0, 37.2, 36.9, 37.1, 36.8, 37.0,
  37.2, 36.9, 37.1, 36.8, 37.0, 37.1, 36.9, 37.2, 36.9, 37.0,
  37.1,
];
const ITEMP_FED_DUO_SD = [
  0.5, 0.8, 0.8, 0.7, 0.7, 0.5, 0.4, 0.3, 0.3, 0.3,
  0.3, 0.3, 0.3, 0.3, 0.3, 0.3, 0.3, 0.3, 0.3, 0.3,
  0.3, 0.3, 0.3, 0.3, 0.3, 0.3, 0.3, 0.3, 0.3, 0.3,
  0.3, 0.3, 0.3, 0.3, 0.3, 0.3, 0.3, 0.3, 0.3, 0.3,
  0.3, 0.3, 0.3, 0.3, 0.3, 0.3, 0.3, 0.3, 0.3, 0.3,
  0.3, 0.3, 0.3, 0.3, 0.3, 0.3, 0.3, 0.3, 0.3, 0.3,
  0.4, 0.4, 0.5, 0.5, 0.5, 0.4, 0.4, 0.3, 0.3, 0.3,
  0.3, 0.3, 0.3, 0.3, 0.3, 0.3, 0.3, 0.3, 0.3, 0.3,
  0.3, 0.3, 0.3, 0.3, 0.3, 0.3, 0.3, 0.3, 0.3, 0.3,
  0.3, 0.3, 0.3, 0.3, 0.3, 0.3, 0.3, 0.3, 0.3, 0.3,
  0.3,
];
const ITEMP_FED_JEJ = [
  35.6, 35.8, 35.5, 35.7, 36.2, 36.6, 37.2, 37.0, 37.9, 37.5,
  38.0, 37.3, 37.7, 36.8, 37.2, 36.9, 37.4, 37.0, 37.6, 37.9,
  37.2, 36.6, 37.0, 36.5, 37.1, 36.8, 37.2, 36.9, 37.3, 36.8,
  37.4, 37.6, 37.9, 37.4, 37.7, 37.1, 37.5, 36.9, 37.3, 36.8,
  36.4, 37.0, 36.5, 37.2, 36.8, 36.3, 37.0, 36.6, 37.1, 36.7,
  37.2, 36.8, 37.1, 36.6, 37.0, 36.8, 37.1, 36.7, 36.4, 36.8,
  36.5, 36.0, 36.6, 36.1, 36.4, 35.9, 36.5, 35.6, 35.4, 36.6,
  37.3, 37.0, 37.4, 36.8, 37.2, 36.7, 37.1, 36.9, 37.3, 36.8,
  37.0, 36.6, 37.2, 36.7, 37.1, 36.9, 37.3, 36.8, 37.1, 36.9,
  37.2, 36.8, 37.1, 36.7, 37.0, 37.3, 36.9, 37.1, 36.8, 37.2,
  37.3,
];
const ITEMP_FED_JEJ_SD = [
  0.5, 0.5, 0.5, 0.5, 0.5, 0.5, 0.5, 0.5, 0.6, 0.6,
  0.6, 0.6, 0.6, 0.5, 0.5, 0.5, 0.5, 0.5, 0.6, 0.6,
  0.45, 0.45, 0.45, 0.45, 0.45, 0.45, 0.45, 0.45, 0.45, 0.45,
  0.45, 0.5, 0.5, 0.45, 0.45, 0.45, 0.45, 0.45, 0.45, 0.45,
  0.45, 0.45, 0.45, 0.45, 0.45, 0.45, 0.45, 0.45, 0.45, 0.45,
  0.45, 0.45, 0.45, 0.45, 0.45, 0.45, 0.45, 0.45, 0.45, 0.45,
  0.5, 0.5, 0.5, 0.5, 0.5, 0.6, 0.7, 0.9, 1.0, 0.7,
  0.45, 0.45, 0.45, 0.45, 0.45, 0.45, 0.45, 0.45, 0.45, 0.45,
  0.45, 0.45, 0.45, 0.45, 0.45, 0.45, 0.45, 0.45, 0.45, 0.45,
  0.45, 0.45, 0.45, 0.45, 0.45, 0.45, 0.45, 0.45, 0.45, 0.45,
  0.45,
];
const ITEMP_FED_ILE = [
  36.6, 37.2, 36.5, 37.1, 36.7, 37.3, 36.8, 37.1, 36.9, 37.2,
  36.8, 37.1, 36.7, 37.2, 36.9, 37.0, 36.8, 37.1, 37.0, 36.8,
  37.1, 36.7, 37.0, 36.8, 37.2, 36.9, 37.1, 36.7, 37.0, 37.2,
  36.9, 37.1, 36.7, 37.0, 36.8, 37.1, 36.9, 37.2, 36.8, 37.0,
  36.8, 37.1, 36.9, 37.2, 36.7, 37.4, 37.0, 37.9, 37.3, 37.0,
  36.8, 37.1, 36.9, 37.2, 36.8, 37.0, 36.7, 37.1, 36.9, 36.8,
  36.6, 36.9, 36.5, 36.8, 36.6, 36.9, 37.0, 37.3, 37.6, 37.4,
  37.1, 37.4, 36.9, 37.2, 36.8, 37.1, 36.9, 37.2, 36.8, 37.0,
  36.9, 37.1, 36.8, 37.2, 36.9, 37.0, 37.1, 36.8, 37.2, 36.9,
  37.0, 37.2, 36.8, 37.1, 36.9, 37.0, 37.2, 36.9, 37.1, 36.8,
  37.0,
];
const ITEMP_FED_ILE_SD = 0.5;

// ---------- layout (pixels) ----------
const CANVAS_W = 1546;
const CANVAS_H = 643;
const ROW_TOPS = [0, 631, 1263, 1894];
const PLOT_TOP = 99;
const X_AXIS_H = 114;
const Y_AXIS_W = [165, 142];
const PAD_RIGHT = [38, 61];

interface Series {
  label: string;
  color: string;
  mean: number[];
  sd: number | number[];
}

interface LegendItem {
  label: string;
  color: string;
  sx: number;
  tx: number;
  y: number;
}

interface LegendSpec {
  size: number;
  len: number;
  items: LegendItem[];
}

interface PanelSpec {
  title: string;
  row: number;
  col: number;
  t: number[];
  series: Series[];
  xMax: number;
  xStep: number;
  yMin: number;
  yMax: number;
  yTicks: number[];
  yTitle?: string;
  yTitlePad?: number;
  legend: LegendSpec;
}

const twoLegend = (y: number): LegendSpec => ({
  size: 44,
  len: 94,
  items: [
    { label: 'tiny-TIM', color: ORANGE, sx: 633, tx: 767, y },
    { label: 'TIM-1', color: BLUE, sx: 1039, tx: 1173, y },
  ],
});

const phLegend: LegendSpec = {
  size: 37,
  len: 77,
  items: [
    { label: 'tiny-TIM', color: ORANGE, sx: 148, tx: 260, y: 49 },
    { label: 'Duo. (TIM-1)', color: BLUE, sx: 148, tx: 260, y: 105 },
    { label: 'Jej. (TIM-1)', color: RED, sx: 578, tx: 691, y: 49 },
    { label: 'Ile. (TIM-1)', color: PURPLE, sx: 983, tx: 1095, y: 49 },
  ],
};

const tempLegendLeft: LegendSpec = {
  size: 40.5,
  len: 79,
  items: [
    { label: 'tiny-TIM', color: ORANGE, sx: 481, tx: 603, y: 297 },
    { label: 'Duo. (TIM-1)', color: BLUE, sx: 481, tx: 603, y: 364 },
    { label: 'Jej. (TIM-1)', color: RED, sx: 950, tx: 1074, y: 297 },
    { label: 'Ile. (TIM-1)', color: PURPLE, sx: 950, tx: 1074, y: 364 },
  ],
};

const tempLegendRight: LegendSpec = {
  size: 43.5,
  len: 90,
  items: [
    { label: 'tiny-TIM', color: ORANGE, sx: 406, tx: 540, y: 289 },
    { label: 'Duo. (TIM-1)', color: BLUE, sx: 406, tx: 540, y: 362 },
    { label: 'Jej. (TIM-1)', color: RED, sx: 916, tx: 1047, y: 289 },
    { label: 'Ile. (TIM-1)', color: PURPLE, sx: 916, tx: 1047, y: 362 },
  ],
};

const PANELS: PanelSpec[] = [
  {
    title: 'Stomach pH (fasted)', row: 0, col: 0, t: T_SPH_FASTED,
    series: [
      { label: 'tiny-TIM', color: ORANGE, mean: SPH_FASTED_TINY, sd: SPH_FASTED_TINY_SD },
      { label: 'TIM-1', color: BLUE, mean: SPH_FASTED_TIM1, sd: SPH_FASTED_TIM1_SD },
    ],
    xMax: 60, xStep: 10, yMin: 0.96, yMax: 7.0, yTicks: [2, 4, 6],
    yTitle: 'pH', yTitlePad: 61, legend: twoLegend(58),
  },
  {
    title: 'Stomach pH (fed)', row: 0, col: 1, t: T_STOMACH_FED,
    series: [
      { label: 'tiny-TIM', color: ORANGE, mean: SPH_FED_TINY, sd: SPH_FED_TINY_SD },
      { label: 'TIM-1', color: BLUE, mean: SPH_FED_TIM1, sd: SPH_FED_TIM1_SD },
    ],
    xMax: 180, xStep: 20, yMin: 0.96, yMax: 7.0, yTicks: [2, 4, 6],
    legend: twoLegend(58),
  },
  {
    title: 'Intestinal pH (fasted)', row: 1, col: 0, t: T_IPH_FASTED,
    series: [
      { label: 'tiny-TIM', color: ORANGE, mean: IPH_FASTED_TINY, sd: IPH_FASTED_TINY_SD },
      { label: 'Duo. (TIM-1)', color: BLUE, mean: IPH_FASTED_DUO, sd: IPH_FASTED_DUO_SD },
      { label: 'Jej. (TIM-1)', color: RED, mean: IPH_FASTED_JEJ, sd: IPH_FASTED_JEJ_SD },
      { label: 'Ile. (TIM-1)', color: PURPLE, mean: IPH_FASTED_ILE, sd: IPH_FASTED_ILE_SD },
    ],
    xMax: 300, xStep: 50, yMin: 4, yMax: 10, yTicks: [4, 6, 8, 10],
    yTitle: 'pH', yTitlePad: 61, legend: phLegend,
  },
  {
    title: 'Intestinal pH (fed)', row: 1, col: 1, t: T_IPH_FED,
    series: [
      { label: 'tiny-TIM', color: ORANGE, mean: IPH_FED_TINY, sd: IPH_FED_TINY_SD },
      { label: 'Duo. (TIM-1)', color: BLUE, mean: IPH_FED_DUO, sd: IPH_FED_DUO_SD },
      { label: 'Jej. (TIM-1)', color: RED, mean: IPH_FED_JEJ, sd: IPH_FED_JEJ_SD },
      { label: 'Ile. (TIM-1)', color: PURPLE, mean: IPH_FED_ILE, sd: IPH_FED_ILE_SD },
    ],
    xMax: 300, xStep: 50, yMin: 4, yMax: 10, yTicks: [4, 6, 8, 10],
    legend: phLegend,
  },
  {
    title: 'Stomach temperature (fasted)', row: 2, col: 0, t: T_STEMP_FASTED,
    series: [
      { label: 'tiny-TIM', color: ORANGE, mean: STEMP_FASTED_TINY, sd: STEMP_FASTED_TINY_SD },
      { label: 'TIM-1', color: BLUE, mean: STEMP_FASTED_TIM1, sd: STEMP_FASTED_TIM1_SD },
    ],
    xMax: 60, xStep: 10, yMin: 30, yMax: 40, yTicks: [30, 32, 34, 36, 38, 40],
    yTitle: 'Temperature (C)', yTitlePad: 35, legend: twoLegend(361),
  },
  {
    title: 'Stomach temperature (fed)', row: 2, col: 1, t: T_STOMACH_FED,
    series: [
      { label: 'tiny-TIM', color: ORANGE, mean: STEMP_FED_TINY, sd: STEMP_FED_TINY_SD },
      { label: 'TIM-1', color: BLUE, mean: STEMP_FED_TIM1, sd: STEMP_FED_TIM1_SD },
    ],
    xMax: 180, xStep: 20, yMin: 30, yMax: 40, yTicks: [30, 32, 34, 36, 38, 40],
    legend: twoLegend(361),
  },
  {
    title: 'Intestinal temperature (fasted)', row: 3, col: 0, t: T_ITEMP,
    series: [
      { label: 'tiny-TIM', color: ORANGE, mean: ITEMP_FASTED_TINY, sd: ITEMP_FASTED_TINY_SD },
      { label: 'Duo. (TIM-1)', color: BLUE, mean: ITEMP_FASTED_DUO, sd: ITEMP_FASTED_DUO_SD },
      { label: 'Jej. (TIM-1)', color: RED, mean: ITEMP_FASTED_JEJ, sd: ITEMP_FASTED_JEJ_SD },
      { label: 'Ile. (TIM-1)', color: PURPLE, mean: ITEMP_FASTED_ILE, sd: ITEMP_FASTED_ILE_SD },
    ],
    xMax: 300, xStep: 50, yMin: 30, yMax: 40, yTicks: [30, 32, 34, 36, 38, 40],
    yTitle: 'Temperature (C)', yTitlePad: 35, legend: tempLegendLeft,
  },
  {
    title: 'Intestinal temperature (fed)', row: 3, col: 1, t: T_ITEMP,
    series: [
      { label: 'tiny-TIM', color: ORANGE, mean: ITEMP_FED_TINY, sd: ITEMP_FED_TINY_SD },
      { label: 'Duo. (TIM-1)', color: BLUE, mean: ITEMP_FED_DUO, sd: ITEMP_FED_DUO_SD },
      { label: 'Jej. (TIM-1)', color: RED, mean: ITEMP_FED_JEJ, sd: ITEMP_FED_JEJ_SD },
      { label: 'Ile. (TIM-1)', color: PURPLE, mean: ITEMP_FED_ILE, sd: ITEMP_FED_ILE_SD },
    ],
    xMax: 300, xStep: 50, yMin: 30, yMax: 40, yTicks: [30, 32, 34, 36, 38, 40],
    legend: tempLegendRight,
  },
];

const LINE_W = 4.6;
const DASH = [16, 7];

function withAlpha(hex: string, a: number) {
  const n = parseInt(hex.slice(1), 16);
  return `rgba(${(n >> 16) & 255}, ${(n >> 8) & 255}, ${n & 255}, ${a})`;
}

function buildConfig(spec: PanelSpec): any {
  const bands: any[] = [];
  const lines: any[] = [];
  spec.series.forEach((s, i) => {
    const sdAt = (k: number) => (typeof s.sd === 'number' ? s.sd : s.sd[k]);
    bands.push({
      label: s.label + ' upper',
      data: spec.t.map((x, k) => ({ x, y: s.mean[k] + sdAt(k) })),
      borderColor: 'rgba(0,0,0,0)',
      backgroundColor: 'rgba(0,0,0,0)',
      pointRadius: 0,
      fill: false,
      order: 20,
    });
    bands.push({
      label: s.label + ' lower',
      data: spec.t.map((x, k) => ({ x, y: s.mean[k] - sdAt(k) })),
      borderColor: 'rgba(0,0,0,0)',
      backgroundColor: withAlpha(s.color, 0.2),
      pointRadius: 0,
      fill: '-1',
      order: 20,
    });
    lines.push({
      label: s.label,
      data: spec.t.map((x, k) => ({ x, y: s.mean[k] })),
      borderColor: s.color,
      borderWidth: LINE_W,
      borderDash: DASH,
      borderCapStyle: 'butt',
      borderJoinStyle: 'round',
      pointRadius: 0,
      fill: false,
      tension: 0,
      order: 10 - i,
    });
  });

  const tickFont = { family: FONT, size: 32 };
  const titleFont = { family: FONT, size: 34 };
  const grid = {
    display: true,
    drawOnChartArea: false,
    drawTicks: true,
    tickLength: 11,
    tickWidth: 2.6,
    tickColor: '#000',
  };

  return {
    type: 'line',
    data: { datasets: [...bands, ...lines] },
    options: {
      responsive: false,
      animation: false,
      events: [],
      layout: { padding: { top: PLOT_TOP, right: PAD_RIGHT[spec.col], left: 0, bottom: 0 } },
      plugins: {
        legend: { display: false },
        tooltip: { enabled: false },
        title: { display: false },
      },
      scales: {
        x: {
          type: 'linear',
          min: 0,
          max: spec.xMax,
          ticks: { stepSize: spec.xStep, font: tickFont, color: '#000', padding: 8, maxRotation: 0, autoSkip: false },
          grid,
          border: { display: false },
          title: { display: true, text: 'Time (min)', font: titleFont, color: '#000', padding: { top: 0, bottom: 0 } },
          afterFit: (scale: any) => {
            scale.height = X_AXIS_H;
          },
        },
        y: {
          type: 'linear',
          min: spec.yMin,
          max: spec.yMax,
          afterBuildTicks: (scale: any) => {
            scale.ticks = spec.yTicks.map((v) => ({ value: v }));
          },
          ticks: { font: tickFont, color: '#000', padding: 13 },
          grid,
          border: { display: false },
          title: spec.yTitle
            ? { display: true, text: spec.yTitle, font: titleFont, color: '#000', padding: { top: spec.yTitlePad, bottom: 0 } }
            : { display: false },
          afterFit: (scale: any) => {
            scale.width = Y_AXIS_W[spec.col];
          },
        },
      },
    },
    plugins: [
      {
        id: 'panelDeco',
        afterDraw(chart: any) {
          const { ctx, chartArea: a } = chart;
          ctx.save();
          // axes frame
          ctx.setLineDash([]);
          ctx.strokeStyle = '#000';
          ctx.lineWidth = 2.6;
          ctx.strokeRect(a.left, a.top, a.right - a.left, a.bottom - a.top);
          // title
          ctx.fillStyle = '#000';
          ctx.font = `43px ${FONT}`;
          ctx.textAlign = 'center';
          ctx.textBaseline = 'middle';
          ctx.fillText(spec.title, (a.left + a.right) / 2, a.top - 39);
          // legend
          const lg = spec.legend;
          ctx.textAlign = 'left';
          ctx.font = `${lg.size}px ${FONT}`;
          lg.items.forEach((it) => {
            const y = a.top + it.y;
            ctx.beginPath();
            ctx.setLineDash(DASH);
            ctx.lineDashOffset = 0;
            ctx.lineCap = 'butt';
            ctx.strokeStyle = it.color;
            ctx.lineWidth = LINE_W;
            ctx.moveTo(a.left + it.sx, y);
            ctx.lineTo(a.left + it.sx + lg.len, y);
            ctx.stroke();
            ctx.setLineDash([]);
            ctx.fillStyle = '#000';
            ctx.fillText(it.label, a.left + it.tx, y);
          });
          ctx.restore();
        },
      },
    ],
  };
}

const Panel: React.FC<{ spec: PanelSpec }> = ({ spec }) => {
  const canvasRef = useRef<HTMLCanvasElement | null>(null);

  useEffect(() => {
    if (!canvasRef.current) return;
    const chart = new Chart(canvasRef.current, buildConfig(spec));
    return () => {
      chart.destroy();
    };
  }, [spec]);

  return (
    <canvas
      ref={canvasRef}
      width={CANVAS_W}
      height={CANVAS_H}
      style={{ position: 'absolute', left: spec.col * CANVAS_W, top: ROW_TOPS[spec.row], width: CANVAS_W, height: CANVAS_H }}
    />
  );
};

export default function App() {
  return (
    <div style={{ position: 'absolute', left: 0, top: 0, width: 3092, height: 2563, background: '#fff', overflow: 'hidden' }}>
      {PANELS.map((p) => (
        <Panel key={p.title} spec={p} />
      ))}
    </div>
  );
}
